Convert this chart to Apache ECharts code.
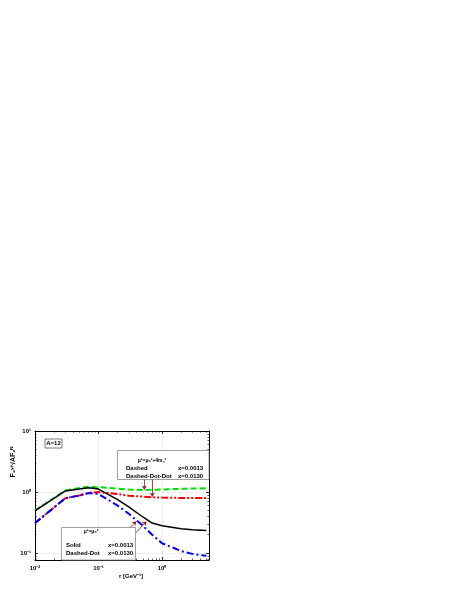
<!DOCTYPE html>
<html>
<head>
<meta charset="utf-8">
<script src="https://cdn.jsdelivr.net/npm/echarts@6/dist/echarts.min.js"></script>
<style>
html, body { margin: 0; padding: 0; background: #fff; }
#main { width: 457px; height: 591px; }
</style>
</head>
<body>
<div id="main"></div>
<script>
// r 值 (GeV^-1)
var rVals = [0.01, 0.03, 0.05, 0.07, 0.1, 0.2, 0.3, 0.5, 0.7, 1, 2, 3, 5];
// mu^2 = mu0^2, x = 0.0013 (Solid)
var solid = [0.49, 1.04, 1.12, 1.18, 1.12, 0.75, 0.57, 0.39, 0.31, 0.28, 0.25, 0.24, 0.235];
// mu^2 = mu0^2 + 4mc^2, x = 0.0013 (Dashed)
var dashed = [0.50, 1.06, 1.16, 1.22, 1.20, 1.14, 1.10, 1.08, 1.09, 1.10, 1.13, 1.14, 1.15];
// mu^2 = mu0^2 + 4mc^2, x = 0.0130 (Dashed-Dot-Dot)
var dashDotDot = [0.31, 0.79, 0.88, 0.97, 1.00, 0.93, 0.87, 0.84, 0.82, 0.81, 0.80, 0.80, 0.80];
// mu^2 = mu0^2, x = 0.0130 (Dashed-Dot)
var dashDot = [0.31, 0.79, 0.88, 0.96, 0.93, 0.60, 0.44, 0.28, 0.20, 0.145, 0.108, 0.097, 0.09];

var xMin = 0.01, xMax = 5.5;
var yMin = 0.077, yMax = 10;
var supMap = {'-': '⁻', '0': '⁰', '1': '¹', '2': '²', '3': '³'};

function pts(ys) {
    return rVals.map(function (r, i) { return [r, ys[i]]; });
}
// 只在10的整数次幂处显示刻度
function powLabel(v) {
    var e = Math.log10(v);
    var n = Math.round(e);
    if (Math.abs(e - n) > 1e-6) return '';
    return '10' + String(n).split('').map(function (c) { return supMap[c]; }).join('');
}

var chart = echarts.init(document.getElementById('main'));
var font = '"Liberation Sans", Arial, sans-serif';

function axisBase(extra) {
    var a = {
        type: 'log',
        logBase: 10,
        axisLine: { show: true, lineStyle: { color: '#000', width: 1 } },
        axisTick: { show: true, inside: true, length: 3, lineStyle: { color: '#000', width: 0.8 } },
        minorTick: { show: true, splitNumber: 9, length: 1.6, lineStyle: { color: '#000', width: 0.6 } },
        axisLabel: {
            show: true, formatter: powLabel, fontFamily: font, fontWeight: 'bold',
            fontSize: 6, color: '#000', showMinLabel: true, showMaxLabel: true
        },
        splitLine: { show: false }
    };
    for (var k in extra) a[k] = extra[k];
    return a;
}

var option = {
    backgroundColor: '#fff',
    animation: false,
    grid: { left: 35, right: 248, top: 431, bottom: 31, show: false },
    xAxis: [
        axisBase({
            min: xMin, max: xMax, position: 'bottom',
            axisLabel: { formatter: powLabel, fontFamily: font, fontWeight: 'bold', fontSize: 6, color: '#000', margin: 5 },
            splitLine: { show: true, lineStyle: { color: '#c8c8c8', width: 0.6, type: 'dotted' } }
        }),
        axisBase({ min: xMin, max: xMax, position: 'top', axisLabel: { show: false } })
    ],
    yAxis: [
        axisBase({
            min: yMin, max: yMax, position: 'left',
            axisLabel: { formatter: powLabel, fontFamily: font, fontWeight: 'bold', fontSize: 6, color: '#000', margin: 4 },
            splitLine: { show: true, lineStyle: { color: '#c8c8c8', width: 0.6, type: 'dotted' } }
        }),
        axisBase({ min: yMin, max: yMax, position: 'right', axisLabel: { show: false } })
    ],
    series: [
        {
            name: 'Dashed', type: 'line', data: pts(dashed), symbol: 'none',
            lineStyle: { color: '#00e000', width: 2, type: [6, 3] }, z: 3
        },
        {
            name: 'Dashed-Dot-Dot', type: 'line', data: pts(dashDotDot), symbol: 'none',
            lineStyle: { color: '#ff0000', width: 2, type: [7, 2, 2, 2, 2, 2] }, z: 3
        },
        {
            name: 'Dashed-Dot', type: 'line', data: pts(dashDot), symbol: 'none',
            lineStyle: { color: '#0000ff', width: 2, type: [7, 3, 2, 3] }, z: 4
        },
        {
            name: 'Solid', type: 'line', data: pts(solid), symbol: 'none',
            lineStyle: { color: '#000', width: 1.5 }, z: 5,
            markLine: {
                silent: true, symbol: ['none', 'arrow'], symbolSize: 4,
                label: { show: false },
                lineStyle: { color: '#a01818', width: 0.8, type: 'solid' },
                data: [
                    [{ coord: [0.526, 1.63] }, { coord: [0.526, 1.09] }],
                    [{ coord: [0.703, 1.63] }, { coord: [0.703, 0.84] }],
                    [{ coord: [0.274, 0.23] }, { coord: [0.394, 0.33] }],
                    [{ coord: [0.385, 0.213] }, { coord: [0.566, 0.33] }]
                ]
            }
        }
    ],
    graphic: [
        // y轴标题
        {
            type: 'text', x: 13, y: 462, rotation: Math.PI / 2,
            style: { text: 'F₂ᵞᴬ/AF₂ᴺ', font: 'bold 7px ' + font, fill: '#000', align: 'center', verticalAlign: 'middle' }
        },
        // x轴标题
        {
            type: 'text', x: 131, y: 576,
            style: { text: 'r [GeV⁻¹]', font: 'bold 6px ' + font, fill: '#000', align: 'center', verticalAlign: 'middle' }
        },
        // A=12
        {
            type: 'rect', shape: { x: 45, y: 439, width: 17, height: 9 },
            style: { fill: '#fff', stroke: '#555', lineWidth: 0.8 }, z: 10
        },
        {
            type: 'text', x: 53.5, y: 443.5, z: 11,
            style: { text: 'A=12', font: 'bold 6px ' + font, fill: '#000', align: 'center', verticalAlign: 'middle' }
        },
        // 上方图例框
        {
            type: 'rect', shape: { x: 117.5, y: 450.5, width: 91.5, height: 29 },
            style: { fill: '#fff', stroke: '#888', lineWidth: 0.8 }, z: 10
        },
        {
            type: 'text', x: 152, y: 461, z: 11,
            style: { text: 'μ²=μ₀²+4m꜀²', font: 'bold 5px ' + font, fill: '#000', align: 'center', verticalAlign: 'middle' }
        },
        {
            type: 'text', x: 126, y: 468.5, z: 11,
            style: { text: 'Dashed', font: 'bold 6px ' + font, fill: '#000', verticalAlign: 'middle' }
        },
        {
            type: 'text', x: 178, y: 468.5, z: 11,
            style: { text: 'x=0.0013', font: 'bold 6px ' + font, fill: '#000', verticalAlign: 'middle' }
        },
        {
            type: 'text', x: 126, y: 476, z: 11,
            style: { text: 'Dashed-Dot-Dot', font: 'bold 6px ' + font, fill: '#000', verticalAlign: 'middle' }
        },
        {
            type: 'text', x: 178, y: 476, z: 11,
            style: { text: 'x=0.0130', font: 'bold 6px ' + font, fill: '#000', verticalAlign: 'middle' }
        },
        // 下方图例框
        {
            type: 'rect', shape: { x: 61.5, y: 527.5, width: 74, height: 32.5 },
            style: { fill: '#fff', stroke: '#888', lineWidth: 0.8 }, z: 10
        },
        {
            type: 'text', x: 91, y: 532, z: 11,
            style: { text: 'μ²=μ₀²', font: 'bold 5px ' + font, fill: '#000', align: 'center', verticalAlign: 'middle' }
        },
        {
            type: 'text', x: 66, y: 545, z: 11,
            style: { text: 'Solid', font: 'bold 6px ' + font, fill: '#000', verticalAlign: 'middle' }
        },
        {
            type: 'text', x: 108, y: 545, z: 11,
            style: { text: 'x=0.0013', font: 'bold 6px ' + font, fill: '#000', verticalAlign: 'middle' }
        },
        {
            type: 'text', x: 66, y: 553, z: 11,
            style: { text: 'Dashed-Dot', font: 'bold 6px ' + font, fill: '#000', verticalAlign: 'middle' }
        },
        {
            type: 'text', x: 108, y: 553, z: 11,
            style: { text: 'x=0.0130', font: 'bold 6px ' + font, fill: '#000', verticalAlign: 'middle' }
        }
    ]
};
chart.setOption(option);
</script>
</body>
</html>
